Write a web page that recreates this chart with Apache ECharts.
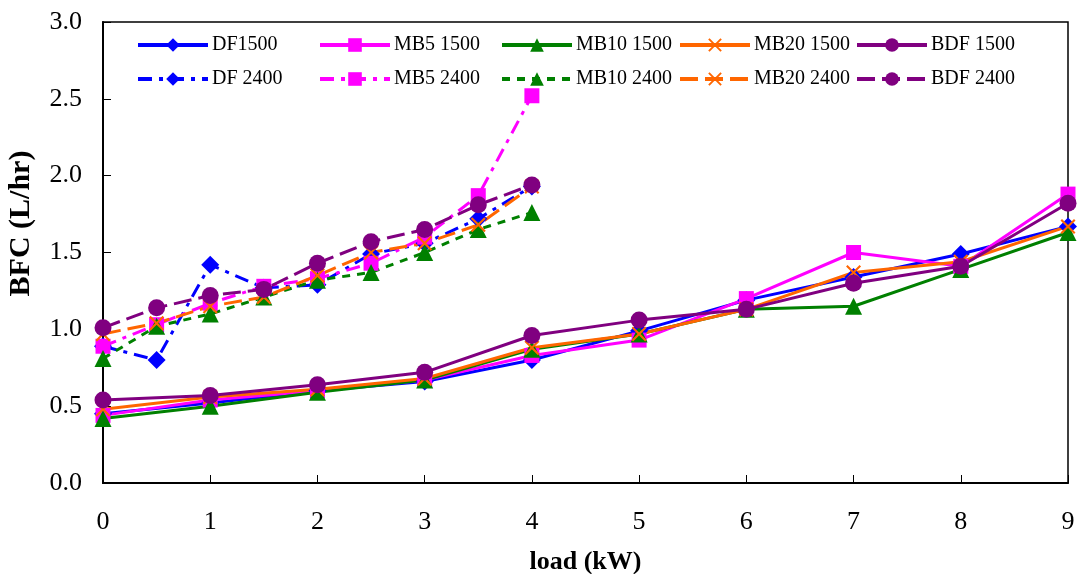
<!DOCTYPE html>
<html><head><meta charset="utf-8">
<script src="https://cdn.jsdelivr.net/npm/echarts@6/dist/echarts.min.js"></script>
<style>html,body{margin:0;padding:0;background:#fff}#c{width:1081px;height:574px}</style>
</head><body><div id="c"></div>
<script>
const x1500 = [0,1,2,3,4,5,6,7,8,9];
const x2400 = [0,0.5,1,1.5,2,2.5,3,3.5,4];
const DF1500  = [0.45,0.52,0.60,0.66,0.80,0.99,1.19,1.34,1.49,1.67];
const MB5_1500 = [0.44,0.54,0.60,0.67,0.83,0.93,1.20,1.50,1.41,1.88];
const MB10_1500 = [0.42,0.50,0.59,0.67,0.87,0.97,1.13,1.15,1.39,1.63];
const MB20_1500 = [0.48,0.56,0.61,0.68,0.88,0.97,1.13,1.37,1.44,1.67];
const BDF1500 = [0.54,0.57,0.64,0.72,0.96,1.06,1.13,1.30,1.41,1.82];
const DF2400  = [0.89,0.80,1.42,1.27,1.29,1.49,1.56,1.72,1.93];
const MB5_2400 = [0.89,1.03,1.17,1.28,1.33,1.43,1.60,1.87,2.52];
const MB10_2400 = [0.81,1.02,1.10,1.21,1.32,1.37,1.50,1.65,1.76];
const MB20_2400 = [0.97,1.04,1.15,1.21,1.35,1.50,1.56,1.68,1.93];
const BDF2400 = [1.01,1.14,1.22,1.26,1.43,1.57,1.65,1.81,1.94];
const yTicks = ['0.0','0.5','1.0','1.5','2.0','2.5','3.0'];

const XPATH = 'path://M0,1L1,0L5,4L9,0L10,1L6,5L10,9L9,10L5,6L1,10L0,9L4,5Z';
const defs = [
  {name:'DF1500', x:x1500, y:DF1500, color:'#0000FF', symbol:'diamond', size:18, type:'solid'},
  {name:'MB5 1500', x:x1500, y:MB5_1500, color:'#FF00FF', symbol:'rect', size:15, type:'solid'},
  {name:'MB10 1500', x:x1500, y:MB10_1500, color:'#008000', symbol:'triangle', size:17, type:'solid'},
  {name:'MB20 1500', x:x1500, y:MB20_1500, color:'#FF6600', symbol:XPATH, size:15, type:'solid'},
  {name:'BDF 1500', x:x1500, y:BDF1500, color:'#800080', symbol:'circle', size:17, type:'solid'},
  {name:'DF 2400', x:x2400, y:DF2400, color:'#0000FF', symbol:'diamond', size:18, type:[14,7,4,7]},
  {name:'MB5 2400', x:x2400, y:MB5_2400, color:'#FF00FF', symbol:'rect', size:15, type:[14,7,4,7]},
  {name:'MB10 2400', x:x2400, y:MB10_2400, color:'#008000', symbol:'triangle', size:17, type:[8,7]},
  {name:'MB20 2400', x:x2400, y:MB20_2400, color:'#FF6600', symbol:XPATH, size:15, type:[18,7]},
  {name:'BDF 2400', x:x2400, y:BDF2400, color:'#800080', symbol:'circle', size:17, type:[18,7]}
];
const series = defs.map(d => ({
  name: d.name, type: 'line', data: d.x.map((v,i)=>[v,d.y[i]]),
  symbol: d.symbol, symbolSize: d.size, color: d.color,
  lineStyle: {color: d.color, width: 3, type: d.type},
  itemStyle: {color: d.color}, animation: false
}));
const colLeft = [136, 318, 500, 678, 855];
const rowTop = [35, 69];
const legends = defs.map((d,i) => ({
  data: [d.name], left: colLeft[i%5], top: rowTop[Math.floor(i/5)], orient:'horizontal',
  itemWidth: 70, itemHeight: 17, padding: 0, itemGap: 0,
  lineStyle: {width: 4},
  textStyle: {fontFamily:'Liberation Serif', fontSize: 20, color:'#000', padding:[0,0,0,-1]}
}));
const chart = echarts.init(document.getElementById('c'), null, {renderer:'canvas'});
chart.setOption({
  backgroundColor: '#fff',
  animation: false,
  grid: {left:103, right:13, top:22, bottom:91, show:true, borderColor:'#000', borderWidth:1.5,
    backgroundColor:'transparent', containLabel:false, outerBoundsMode:'none'},
  legend: legends,
  xAxis: {type:'value', min:0, max:9, interval:1, name:'load (kW)', nameLocation:'middle', nameGap:66,
    nameTextStyle:{fontFamily:'Liberation Serif', fontSize:26, fontWeight:'bold', color:'#000'},
    axisLine:{lineStyle:{color:'#000', width:2}}, axisTick:{inside:true, length:8, lineStyle:{color:'#000'}},
    splitLine:{show:false},
    axisLabel:{fontFamily:'Liberation Serif', fontSize:26, color:'#000', margin:26}},
  yAxis: {type:'value', min:0, max:3, interval:0.5, name:'BFC (L/hr)', nameLocation:'middle', nameGap:67,
    nameTextStyle:{fontFamily:'Liberation Serif', fontSize:30, fontWeight:'bold', color:'#000', padding:[0,0,0,58]},
    axisLine:{lineStyle:{color:'#000', width:2}}, axisTick:{inside:true, length:8, lineStyle:{color:'#000'}},
    splitLine:{show:false},
    axisLabel:{fontFamily:'Liberation Serif', fontSize:26, color:'#000', margin:21,
      formatter: v => yTicks[Math.round(v/0.5)]}},
  series: series
});
</script></body></html>
